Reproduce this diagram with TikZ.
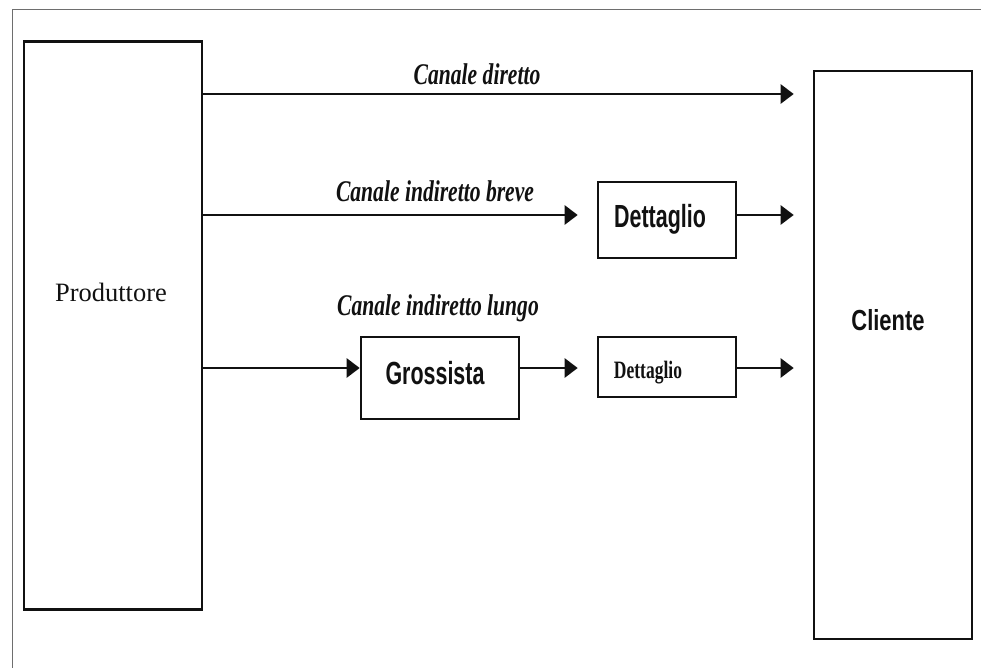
\documentclass[tikz,border=0pt]{standalone}
\usepackage{fontspec}
\setmainfont{Liberation Serif}
\setsansfont{Liberation Sans}
\usetikzlibrary{arrows.meta, positioning, calc}
\definecolor{ink}{HTML}{111111}
\definecolor{frame}{HTML}{6E6E6E}
\tikzset{
  >={Triangle[length=13pt, width=19pt]},
  %
  box/.style={draw=ink, line width=2.6pt, fill=white, inner sep=0pt},
  %
  flow/.style={draw=ink, line width=2.6pt, ->, shorten >=19pt},
  flowtight/.style={flow, shorten >=0pt},
  %
  txt/.style={text=ink, inner sep=0pt, anchor=base, transform shape},
  chan/.style={txt, font=\fontsize{30}{34}\selectfont\bfseries\itshape, xscale=0.72},
  tagsans/.style={txt, font=\sffamily\bfseries\fontsize{32}{36}\selectfont, xscale=0.67},
  tagserif/.style={txt, font=\bfseries\fontsize{25}{29}\selectfont, xscale=0.70},
}
\begin{document}
\begin{tikzpicture}[x=1pt, y=-1pt]
  \useasboundingbox (0,0) rectangle (981,668);

  % --- outer frame ------------------------------------------------------
  \draw[draw=frame, line width=1.3pt] (981,9.5) -- (12.5,9.5) -- (12.5,668);

  % --- producer and customer --------------------------------------------
  \node[box, minimum width=178pt, minimum height=568pt] (prod) at (113,325.5) {};
  \node[txt, font=\fontsize{26.5}{30}\selectfont] (prodtxt) at (111,301) {Produttore};

  \node[box, minimum width=158pt, minimum height=568pt] (cli) at (893,355) {};
  \node[tagsans, font=\sffamily\bfseries\fontsize{29}{33}\selectfont, xscale=1.13]
    (clitxt) at (888,330) {Cliente};

  % --- intermediaries ---------------------------------------------------
  \node[box, minimum width=138pt, minimum height=76pt] (det1) at (667,220) {};
  \node[tagsans] (det1txt) at (660,227) {Dettaglio};

  \node[box, minimum width=158pt, minimum height=82pt] (gross) at (440,378) {};
  \node[tagsans] (grosstxt) at (435,384) {Grossista};

  \node[box, minimum width=138pt, minimum height=60pt] (det2) at (667,367) {};
  \node[tagserif] (det2txt) at (648,378) {Dettaglio};

  % --- channels ---------------------------------------------------------
  \coordinate (ydir) at (0,94);
  \coordinate (ybrv) at (0,215);
  \coordinate (ylng) at (0,368);

  \draw[flow] (prod.east |- ydir) -- (cli.west |- ydir);
  \node[chan] (ldir) at (477,85) {Canale diretto};

  \draw[flow] (prod.east |- ybrv) -- (det1.west |- ybrv);
  \draw[flow] (det1.east |- ybrv) -- (cli.west |- ybrv);
  \node[chan] (lbrv) at (435,202) {Canale indiretto breve};

  \draw[flowtight] (prod.east |- ylng) -- (gross.west |- ylng);
  \draw[flow] (gross.east |- ylng) -- (det2.west |- ylng);
  \draw[flow] (det2.east |- ylng) -- (cli.west |- ylng);
  \node[chan] (llng) at (438,315) {Canale indiretto lungo};

\end{tikzpicture}
\end{document}
